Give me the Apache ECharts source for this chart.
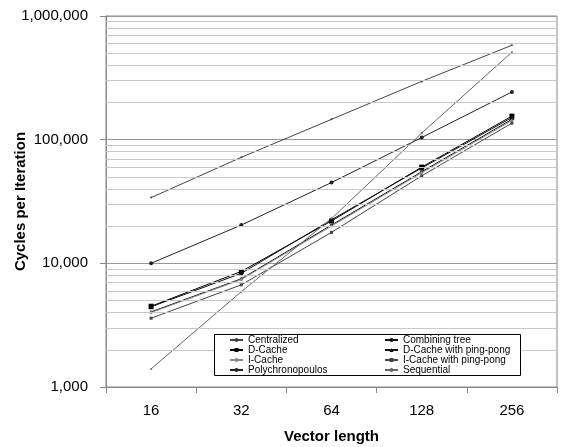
<!DOCTYPE html>
<html>
<head>
<meta charset="utf-8">
<script src="https://cdn.jsdelivr.net/npm/echarts@6/dist/echarts.min.js"></script>
<style>html,body{margin:0;padding:0;background:#fff}#c{width:563px;height:447px}</style>
</head>
<body>
<div id="c"></div>
<script>
var categories = ['16', '32', '64', '128', '256'];
var centralized = [34000, 72000, 146000, 296000, 580000];
var combiningTree = [4050, 7500, 20400, 55000, 146000];
var dCache = [4500, 8600, 22000, 60000, 155000];
var dCachePingPong = [4450, 8300, 22500, 59000, 151000];
var iCache = [4000, 7400, 20000, 54000, 143000];
var iCachePingPong = [3600, 6700, 17800, 51000, 136000];
var polychronopoulos = [10000, 20400, 45000, 104000, 243000];
var sequential = [1400, 5900, 23000, 113000, 510000];
var yTicks = [1000, 10000, 100000, 1000000];

var FONT = 'Liberation Sans, Arial, sans-serif';

// minor gridlines at 2..9 of each decade
var minorLines = [];
for (var d = 0; d < yTicks.length - 1; d++) {
  for (var m = 2; m <= 9; m++) minorLines.push({ yAxis: yTicks[d] * m });
}

function line(name, data, color, symbol, size) {
  return {
    name: name, type: 'line', data: data, z: 3,
    symbol: symbol, symbolSize: size, showSymbol: true,
    lineStyle: { color: color, width: 1 },
    itemStyle: { color: color },
    emphasis: { disabled: true },
    animation: false
  };
}

var series = [
  {
    name: 'grid', type: 'line', data: [], z: 1, silent: true, animation: false,
    markLine: {
      silent: true, symbol: 'none', animation: false,
      label: { show: false },
      lineStyle: { type: 'solid', color: '#c8c8c8', width: 1 },
      data: minorLines
    }
  },
  line('Centralized', centralized, '#444444', 'circle', 2),
  line('Combining tree', combiningTree, '#111111', 'circle', 3),
  line('D-Cache', dCache, '#000000', 'rect', 5),
  line('D-Cache with ping-pong', dCachePingPong, '#111111', 'triangle', 5),
  line('I-Cache', iCache, '#888888', 'circle', 3),
  line('I-Cache with ping-pong', iCachePingPong, '#444444', 'rect', 3),
  line('Polychronopoulos', polychronopoulos, '#222222', 'circle', 4),
  line('Sequential', sequential, '#666666', 'circle', 2)
];

var legendCommon = {
  orient: 'vertical', top: 335, itemWidth: 13, itemHeight: 5, itemGap: 0,
  padding: 0, z: 60, selectedMode: false,
  textStyle: { fontFamily: FONT, fontSize: 10, color: '#000', lineHeight: 10, height: 10 }
};

var chart = echarts.init(document.getElementById('c'), null, { renderer: 'canvas' });
chart.setOption({
  backgroundColor: '#fff',
  animation: false,
  grid: { left: 106, right: 6, top: 16, bottom: 60, outerBoundsMode: 'none', containLabel: false, show: true, borderColor: '#888888', borderWidth: 1, backgroundColor: 'transparent' },
  xAxis: {
    type: 'category', data: categories, boundaryGap: true,
    name: 'Vector length', nameLocation: 'middle', nameGap: 42, nameMoveOverlap: false,
    nameTextStyle: { fontFamily: FONT, fontSize: 15, fontWeight: 'bold', color: '#000' },
    axisLine: { lineStyle: { color: '#888888' } },
    axisTick: { show: true, length: 6, lineStyle: { color: '#888888' } },
    axisLabel: { fontFamily: FONT, fontSize: 15, color: '#000', margin: 16 },
    splitLine: { show: false }
  },
  yAxis: {
    type: 'log', logBase: 10, min: yTicks[0], max: yTicks[yTicks.length - 1], splitNumber: 3,
    name: 'Cycles per Iteration', nameLocation: 'middle', nameGap: 78, nameMoveOverlap: false,
    nameTextStyle: { fontFamily: FONT, fontSize: 15, fontWeight: 'bold', color: '#000' },
    axisLine: { show: true, lineStyle: { color: '#888888' } },
    axisTick: { show: true, length: 6, lineStyle: { color: '#888888' } },
    axisLabel: {
      fontFamily: FONT, fontSize: 15, color: '#000', margin: 18,
      formatter: function (v) { return Math.round(v).toLocaleString('en-US'); }
    },
    splitLine: { show: true, lineStyle: { color: '#999999', width: 1 } }
  },
  legend: [
    Object.assign({}, legendCommon, { left: 229, data: ['Centralized', 'D-Cache', 'I-Cache', 'Polychronopoulos'] }),
    Object.assign({}, legendCommon, { left: 384, data: ['Combining tree', 'D-Cache with ping-pong', 'I-Cache with ping-pong', 'Sequential'] })
  ],
  graphic: {
    elements: [{
      type: 'rect', z: 50, silent: true,
      shape: { x: 214.5, y: 334.5, width: 306, height: 41 },
      style: { fill: '#ffffff', stroke: '#000000', lineWidth: 1 }
    }]
  },
  series: series
});
</script>
</body>
</html>
